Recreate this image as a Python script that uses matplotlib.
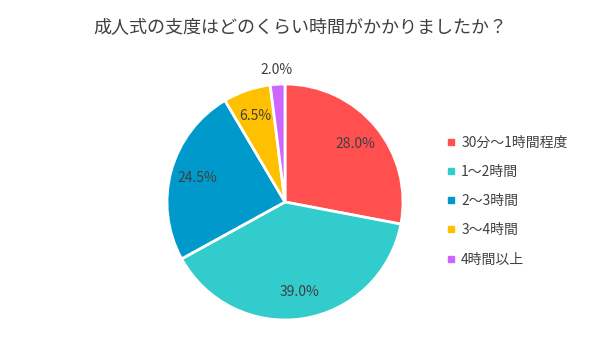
import matplotlib
matplotlib.use("Agg")
import matplotlib.pyplot as plt
from matplotlib.lines import Line2D
import numpy as np

plt.rcParams['font.family'] = ['Noto Sans CJK JP', 'DejaVu Sans']

title = "成人式の支度はどのくらい時間がかかりましたか？"
categories = ["30分〜1時間程度", "1〜2時間", "2〜3時間", "3〜4時間", "4時間以上"]
values = [28.0, 39.0, 24.5, 6.5, 2.0]
colors = ["#FF4F4F", "#33CCCC", "#0099CC", "#FFC000", "#CC66FF"]
text_color = "#404040"

fig = plt.figure(figsize=(6, 3.59), dpi=100)
ax = fig.add_axes([167/600, 39/359, 236/600, 236/359])

wedges, texts = ax.pie(values, colors=colors, startangle=90, counterclock=False,
                       wedgeprops=dict(edgecolor="white", linewidth=2))

# percentage labels, small slice goes outside
for w, v in zip(wedges, values):
    ang = np.deg2rad((w.theta1 + w.theta2) / 2)
    r = 0.77 if v > 5 else 1.12
    ax.text(r * np.cos(ang), r * np.sin(ang), f"{v:.1f}%", ha="center", va="center",
            fontsize=10, color=text_color)
ax.set_xlim(-1, 1)
ax.set_ylim(-1, 1)
ax.set_aspect("equal")

fig.text(0.5, 1 - 27/359, title, ha="center", va="center", fontsize=13, color=text_color)

handles = [Line2D([], [], marker="s", linestyle="none", markersize=5,
                  markerfacecolor=c, markeredgecolor=c) for c in colors]
fig.legend(handles, categories, loc="center left", bbox_to_anchor=(432/600, 1 - 201/359),
           frameon=False, fontsize=10, labelcolor=text_color, handletextpad=0.2,
           labelspacing=1.1, handlelength=1.0)

fig.savefig("out.png", dpi=100)
